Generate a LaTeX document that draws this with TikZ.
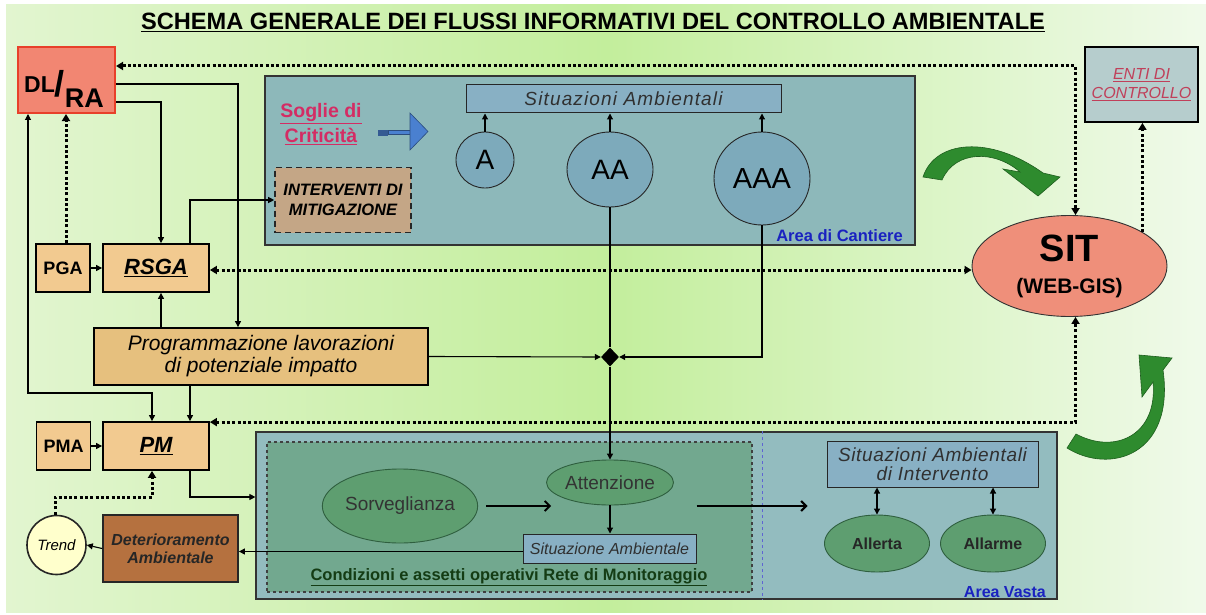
\documentclass[tikz,border=0pt]{standalone}
\usepackage{fontspec}
\setmainfont{Liberation Sans}
\usetikzlibrary{arrows.meta,shapes.geometric,calc}
\definecolor{bgL}{HTML}{E2F5D0}
\definecolor{bgM}{HTML}{C3EE9C}
\definecolor{bgR}{HTML}{F0FAEA}
\definecolor{cantC}{HTML}{8DB8BA}
\definecolor{lowerC}{HTML}{93BCBF}
\definecolor{innerC}{HTML}{72A88F}
\definecolor{greenEl}{HTML}{5E9E70}
\definecolor{greenB}{HTML}{2F5F3F}
\definecolor{circC}{HTML}{7DAABB}
\definecolor{sitC}{HTML}{88B0C4}
\definecolor{tanC}{HTML}{F2CA90}
\definecolor{progC}{HTML}{E6C07E}
\definecolor{intC}{HTML}{C4A686}
\definecolor{detC}{HTML}{B5713F}
\definecolor{trendC}{HTML}{FFFFCC}
\definecolor{dlC}{HTML}{F28672}
\definecolor{dlB}{HTML}{E8402A}
\definecolor{sitEl}{HTML}{EF8F7A}
\definecolor{entiC}{HTML}{B6CDCD}
\definecolor{arrG}{HTML}{2E8B2E}
\definecolor{arrGB}{HTML}{1E5E1E}
\definecolor{sogC}{HTML}{D42C64}
\definecolor{entiT}{HTML}{C0405A}
\definecolor{areaT}{HTML}{1A22C0}
\definecolor{condT}{HTML}{143C14}
\definecolor{blueA}{HTML}{4A80D0}
\definecolor{grayT}{HTML}{303030}
\newcommand{\fs}[1]{\fontsize{#1}{#1}\selectfont}
\tikzset{
  >={Triangle[length=6pt,width=6pt]},
  conn/.style={line width=1.1pt, draw=black},
  dots/.style={line width=3pt, dash pattern=on 3pt off 2.3pt, >={Triangle[length=7pt,width=8pt]}},
  tanbox/.style={draw=black, line width=1.8pt, fill=tanC, inner sep=0pt},
  panel/.style={draw=black!80, line width=1.2pt, inner sep=0pt},
  ell/.style={ellipse, draw=black!85, line width=0.9pt, inner sep=0pt},
  sitbox/.style={draw=black!85, line width=1pt, fill=sitC, inner sep=0pt, text=grayT},
  bigarrow/.style={-{Straight Barb[length=5pt,width=10pt]}, line width=2pt},
  garrow/.style={fill=arrG, draw=arrGB, line width=0.6pt}
}
\begin{document}
\begin{tikzpicture}[x=1pt,y=-1pt]
\useasboundingbox (0,0) rectangle (1206,615);
\fill[white] (0,0) rectangle (1206,615);
\shade[left color=bgL, right color=bgR, middle color=bgM] (6,5) rectangle (1206,612);

% title
\node[font=\bfseries\fs{23.6}] (title) at (593,22) {\underline{SCHEMA GENERALE DEI FLUSSI INFORMATIVI DEL CONTROLLO AMBIENTALE}};

% panels
\node[panel, fill=cantC, minimum width=650pt, minimum height=169pt] (cant) at (590,160.5) {};
\node[panel, fill=lowerC, minimum width=801pt, minimum height=167pt] (lower) at (656.5,515.5) {};
\node[draw=black!75, dashed, line width=1.1pt, fill=innerC, minimum width=485pt, minimum height=150pt, inner sep=0pt] (inner) at (509.5,517) {};
\draw[areaT!70, dashed, line width=0.9pt] (762,0 |- lower.north) -- (762,0 |- lower.south);

% DL/RA
\node[draw=dlB, line width=2pt, fill=dlC, minimum width=97pt, minimum height=66pt, inner sep=0pt] (dlra) at (66.5,80) {};
\node[anchor=base west, font=\bfseries, inner sep=0pt] (dltext) at (24,93) {{\fs{23}DL}\raisebox{-4pt}{\fs{36}/}\raisebox{-14pt}{\fs{27}RA}};

% ENTI
\node[draw=black, line width=1.8pt, fill=entiC, minimum width=113pt, minimum height=75pt, inner sep=0pt, align=center, text=entiT, font=\itshape\fs{16}] (enti) at (1141.5,84.5) {\underline{ENTI DI}\\[3pt]\underline{CONTROLLO}};

% Cantiere contents
\node[sitbox, minimum width=315pt, minimum height=28pt, font=\itshape\fs{19}\addfontfeature{LetterSpace=6}] (sitamb) at (623.5,99) {Situazioni Ambientali};
\node[ell, fill=circC, minimum width=58pt, minimum height=56pt, font=\fs{28}] (a) at (485,160) {A};
\node[ell, fill=circC, minimum width=86pt, minimum height=75pt, font=\fs{28}] (aa) at (610,169.5) {AA};
\node[ell, fill=circC, minimum width=96pt, minimum height=93pt, font=\fs{29}] (aaa) at (762,178.5) {AAA};
\node[align=center, text=sogC, font=\bfseries\fs{19.5}, inner sep=0pt] (soglie) at (321,124) {\underline{Soglie di}\\[3pt]\underline{Criticità}};
\fill[blueA!70!black] (378,130) rectangle (388,135.5);
\fill[blueA, draw=blueA!60!black, line width=0.6pt] (388,130.5) rectangle (410,134.5);
\fill[blueA, draw=blueA!60!black, line width=0.6pt] (410,113) -- (428,131.5) -- (410,150) -- cycle;
\node[draw=black!85, dash pattern=on 6pt off 4pt, line width=1.6pt, fill=intC, minimum width=136pt, minimum height=65pt, inner sep=0pt, align=center, font=\bfseries\itshape\fs{16.5}] (interv) at (343,200) {INTERVENTI DI\\[3pt]MITIGAZIONE};
\node[anchor=base east, text=areaT, font=\bfseries\fs{16.5}, inner sep=0pt] (acant) at (903,241) {Area di Cantiere};

% left column
\node[tanbox, minimum width=106pt, minimum height=48pt, font=\bfseries\itshape\fs{22}] (rsga) at (156,268) {\underline{RSGA}};
\node[tanbox, minimum width=54pt, minimum height=48pt, font=\bfseries\fs{18}] (pga) at (63,268) {PGA};
\node[tanbox, fill=progC, minimum width=334pt, minimum height=57pt, align=center, font=\itshape\fs{21}] (prog) at (261,356.5) {Programmazione lavorazioni\\[1pt]di potenziale impatto};
\node[tanbox, minimum width=106pt, minimum height=48pt, font=\bfseries\itshape\fs{22}] (pm) at (156,446) {\underline{PM}};
\node[tanbox, minimum width=54pt, minimum height=48pt, font=\bfseries\fs{18}] (pma) at (63.5,446) {PMA};
\node[circle, draw=black!85, line width=1.6pt, fill=trendC, minimum size=59pt, inner sep=0pt, font=\itshape\fs{15}] (trend) at (56.5,545) {Trend};
\node[draw=black!85, line width=1.8pt, fill=detC, minimum width=135pt, minimum height=67pt, inner sep=0pt, align=center, font=\bfseries\itshape\fs{16}, text=black!85] (deter) at (170.5,548.5) {Deterioramento\\[2pt]Ambientale};

% diamond
\node[diamond, fill=black, minimum width=18pt, minimum height=19pt, inner sep=0pt] (dia) at (610,357) {};

% lower contents
\node[ell, draw=greenB, fill=greenEl, minimum width=154pt, minimum height=74pt, font=\fs{19}, text=black!80] (sorv) at (400,506) {Sorveglianza};
\node[ell, draw=greenB, fill=greenEl, minimum width=97pt, minimum height=45pt, font=\fs{19}, text=black!80] (att) at (610,482.5) {Attenzione};
\node[sitbox, minimum width=173pt, minimum height=29pt, font=\itshape\fs{16}] (sitamb2) at (609.5,548.5) {Situazione Ambientale};
\node[text=condT, font=\bfseries\fs{16.5}, inner sep=0pt] (cond) at (509,577) {\underline{Condizioni e assetti operativi Rete di Monitoraggio}};
\node[sitbox, minimum width=211pt, minimum height=46pt, align=center, font=\itshape\fs{19}\addfontfeature{LetterSpace=3.5}] (sadi) at (932.5,464) {Situazioni Ambientali\\di Intervento};
\node[ell, draw=greenB, fill=greenEl, minimum width=105pt, minimum height=57pt, font=\bfseries\fs{16}, text=black!85] (allerta) at (877,543.5) {Allerta};
\node[ell, draw=greenB, fill=greenEl, minimum width=105pt, minimum height=57pt, font=\bfseries\fs{16}, text=black!85] (allarme) at (993,543.5) {Allarme};
\node[anchor=base east, text=areaT, font=\bfseries\fs{16}, inner sep=0pt] (avasta) at (1046,597) {Area Vasta};

% SIT
\node[ell, draw=black!80, fill=sitEl, minimum width=195pt, minimum height=101pt, align=center, font=\bfseries\fs{21}] (sit) at (1069.5,266) {{\fs{38}SIT}\\[11pt](WEB-GIS)};

% green curved arrows
\filldraw[garrow]
  (923,177) .. controls (935,140) and (990,135) .. (1043,173)
  -- (1060,177) -- (1038,196) -- (1003,169) -- (1020,172)
  .. controls (995,150) and (955,150) .. (942,180) -- cycle;
\filldraw[garrow]
  (1067,448) .. controls (1110,475) and (1175,455) .. (1163,370)
  -- (1172,358) -- (1139,355) -- (1142,397) -- (1153,382)
  .. controls (1158,435) and (1115,455) .. (1076,434) -- cycle;

% dotted connectors
\draw[dots,<->] ($(dlra.north east)+(0,20)$) -| ($(sit.north)+(6,0)$);
\draw[dots,->] (sit.25) -- (sit.25 |- enti.south);
\draw[dots,<->] ($(rsga.east)+(0,2)$) -- ($(sit.west)+(0,4)$);
\draw[dots,<->] ($(pm.north east)+(0,1)$) -| ($(sit.south)+(6,0)$);
\draw[dots,->] (66,0 |- pga.north) -- (66,0 |- dlra.south);
\draw[dots,->] (55,0 |- trend.north) |- (152,497) -- (152,0 |- pm.south);

% solid connectors
\draw[conn,->] ($(dlra.north east)+(0,38)$) -| (238,0 |- prog.north);
\draw[conn,->] ($(dlra.north east)+(0,56)$) -| (161,0 |- rsga.north);
\draw[conn,->] (190,0 |- rsga.north) |- (interv.west);
\draw[conn,<->] (28,0 |- dlra.south) -- (28,393) -- (152,393) -- (152,0 |- pm.north);
\draw[conn,->] (161,0 |- prog.north) -- (161,0 |- rsga.south);
\draw[conn,->] (190,0 |- prog.south) -- (190,0 |- pm.north);
\draw[conn,->] (190,0 |- pm.south) |- (lower.west |- 0,497);
\draw[conn,->] (pga.east) -- (rsga.west);
\draw[conn,->] (pma.east) -- (pm.west);
\draw[conn,->] (deter.west) -- (trend.east);
\draw[conn,->] ($(sitamb2.west)+(0,3)$) -- (deter.east |- 0,551.5);
\draw[conn,->] (prog.east) -- (dia.west);
\draw[conn,->] (aaa.south) |- (dia.east);
\draw[conn] (aa.south) -- (dia.north);
\draw[conn,->] (dia.south) -- (att.north);
\draw[conn,->] (a.north) -- (a.north |- sitamb.south);
\draw[conn,->] (aa.north) -- (aa.north |- sitamb.south);
\draw[conn,->] (aaa.north) -- (aaa.north |- sitamb.south);
\draw[conn,->] (att.south) -- (att.south |- sitamb2.north);
\draw[bigarrow] ($(sorv.east)+(8,0)$) -- ($(sorv.east)+(73,0)$);
\draw[bigarrow] (sitamb2.east |- sorv.east) -- ($(sadi.west |- sorv.east)+(-19,0)$);
\draw[conn,<->] (allerta.north) -- (allerta.north |- sadi.south);
\draw[conn,<->] (allarme.north) -- (allarme.north |- sadi.south);
\end{tikzpicture}
\end{document}
